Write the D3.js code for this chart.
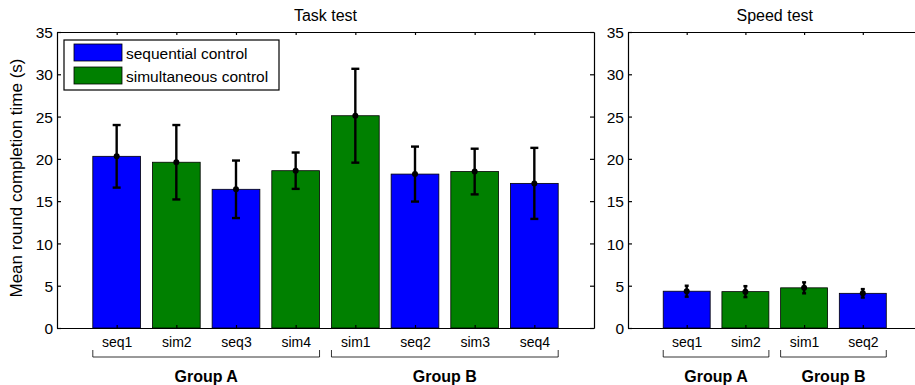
<!DOCTYPE html>
<html>
<head>
<meta charset="utf-8">
<script src="https://cdn.jsdelivr.net/npm/d3@7"></script>
<style>
  body { margin: 0; background: #fff; }
  svg text { font-family: "Liberation Sans", Arial, sans-serif; font-size: 15.5px; fill: #000; }
  .axis path, .axis line { stroke: #000; stroke-width: 1.2; }
  .group-label { font-weight: bold; font-size: 16px; }
</style>
</head>
<body>
<svg id="chart" width="915" height="385"></svg>
<script>
// Task test panel
const taskCategories = ["seq1", "sim2", "seq3", "sim4", "sim1", "seq2", "sim3", "seq4"];
const taskMeans = [20.3, 19.6, 16.4, 18.6, 25.1, 18.2, 18.5, 17.1];
const taskErrors = [3.7, 4.4, 3.4, 2.15, 5.55, 3.25, 2.7, 4.2];

// Speed test panel
const speedCategories = ["seq1", "sim2", "sim1", "seq2"];
const speedMeans = [4.35, 4.3, 4.75, 4.1];
const speedErrors = [0.65, 0.65, 0.65, 0.5];

const yTicks = [0, 5, 10, 15, 20, 25, 30, 35];
const groupNames = ["Group A", "Group B"];
// which categories each group bracket covers (1-based, first..last)
const taskGroups = [[1, 4], [5, 8]];
const speedGroups = [[1, 2], [3, 4]];

const seriesNames = ["sequential control", "simultaneous control"];
const colors = { seq: "#0000ff", sim: "#008000" };

const svg = d3.select("#chart");

const y = d3.scaleLinear().domain([0, 35]).range([328, 32]);
const barW = 0.8;

function drawPanel(opts) {
  const { cats, means, errs, x, title, groups } = opts;
  const n = cats.length;
  const g = svg.append("g");
  const x0 = x.range()[0], x1 = x.range()[1];

  // bars
  g.selectAll("rect.bar")
    .data(means)
    .enter().append("rect")
    .attr("class", "bar")
    .attr("x", (d, i) => x(i + 1 - barW / 2))
    .attr("width", x(barW) - x(0))
    .attr("y", d => y(d))
    .attr("height", d => y(0) - y(d))
    .attr("fill", (d, i) => colors[cats[i].slice(0, 3)])
    .attr("stroke", "#000")
    .attr("stroke-width", 0.8);

  // error bars
  const eb = g.selectAll("g.err")
    .data(means)
    .enter().append("g")
    .attr("class", "err");
  eb.append("line")
    .attr("x1", (d, i) => x(i + 1)).attr("x2", (d, i) => x(i + 1))
    .attr("y1", (d, i) => y(d + errs[i])).attr("y2", (d, i) => y(d - errs[i]))
    .attr("stroke", "#000").attr("stroke-width", 2.4);
  [1, -1].forEach(s => {
    eb.append("line")
      .attr("x1", (d, i) => x(i + 1) - opts.cap).attr("x2", (d, i) => x(i + 1) + opts.cap)
      .attr("y1", (d, i) => y(d + s * errs[i])).attr("y2", (d, i) => y(d + s * errs[i]))
      .attr("stroke", "#000").attr("stroke-width", 2.4);
  });
  eb.append("circle")
    .attr("cx", (d, i) => x(i + 1))
    .attr("cy", d => y(d))
    .attr("r", 3)
    .attr("fill", "#000");

  const idx = d3.range(1, n + 1);

  // left axis
  g.append("g").attr("class", "axis")
    .attr("transform", `translate(${x0},0)`)
    .call(d3.axisLeft(y).tickValues(yTicks).tickSizeInner(-4).tickSizeOuter(0).tickPadding(4))
    .call(a => a.selectAll("text").attr("dy", "0.36em").style("font-size", "15.5px"));

  // right axis (ticks only)
  g.append("g").attr("class", "axis")
    .attr("transform", `translate(${x1},0)`)
    .call(d3.axisRight(y).tickValues(yTicks).tickSizeInner(-4).tickSizeOuter(0).tickFormat(""));

  // top axis
  g.append("g").attr("class", "axis")
    .attr("transform", `translate(0,${y(35)})`)
    .call(d3.axisTop(x).tickValues(idx).tickSizeInner(-3).tickSizeOuter(0).tickFormat(""));

  // bottom axis with category names
  g.append("g").attr("class", "axis")
    .attr("transform", `translate(0,${y(0)})`)
    .call(d3.axisBottom(x).tickValues(idx).tickSizeInner(-3).tickSizeOuter(0)
      .tickPadding(9).tickFormat(i => cats[i - 1]))
    .call(a => a.selectAll("text").style("font-size", "14px"));

  // title
  g.append("text")
    .attr("x", (x0 + x1) / 2)
    .attr("y", 21)
    .attr("text-anchor", "middle")
    .style("font-size", "16px")
    .text(title);

  // group brackets, from first bar's left edge to last bar's right edge
  groups.forEach((gr, k) => {
    const a = x(gr[0] - barW / 2), b = x(gr[1] + barW / 2);
    g.append("path")
      .attr("d", `M${a},350V357H${b}V350`)
      .attr("fill", "none")
      .attr("stroke", "#000")
      .attr("stroke-width", 0.8);
    g.append("text")
      .attr("class", "group-label")
      .attr("x", (a + b) / 2)
      .attr("y", 382)
      .attr("text-anchor", "middle")
      .text(groupNames[k]);
  });
  return g;
}

const xTask = d3.scaleLinear().domain([0, 9]).range([57, 594]);
const xSpeed = d3.scaleLinear().domain([0, 5]).range([628, 921.5]);

drawPanel({ cats: taskCategories, means: taskMeans, errs: taskErrors, x: xTask,
  title: "Task test", groups: taskGroups, cap: 4 });
drawPanel({ cats: speedCategories, means: speedMeans, errs: speedErrors, x: xSpeed,
  title: "Speed test", groups: speedGroups, cap: 2 });

// y label
svg.append("text")
  .attr("transform", "translate(22,178) rotate(-90)")
  .attr("text-anchor", "middle")
  .style("font-size", "17px")
  .text("Mean round completion time (s)");

// legend
const legend = svg.append("g");
legend.append("rect")
  .attr("x", 64).attr("y", 40).attr("width", 215).attr("height", 50)
  .attr("fill", "#fff").attr("stroke", "#000").attr("stroke-width", 1.2);
seriesNames.forEach((name, i) => {
  const cy = 53 + i * 23;
  legend.append("rect")
    .attr("x", 74).attr("y", cy - 9).attr("width", 48).attr("height", 17)
    .attr("fill", i === 0 ? colors.seq : colors.sim)
    .attr("stroke", "#000").attr("stroke-width", 0.8);
  legend.append("text")
    .attr("x", 126).attr("y", cy)
    .attr("dy", "0.36em")
    .text(name);
});
</script>
</body>
</html>
